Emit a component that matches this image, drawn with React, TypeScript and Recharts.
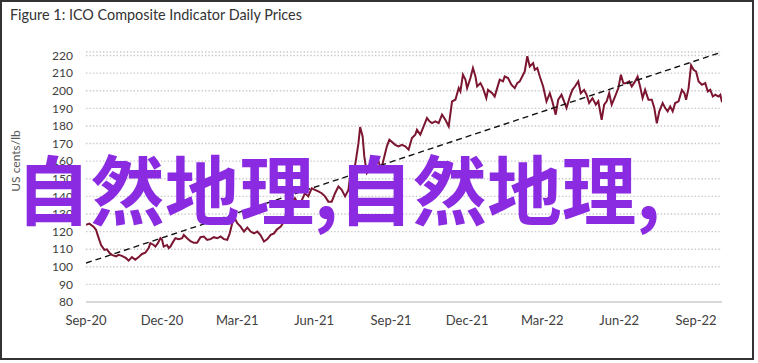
import { LineChart, Line, XAxis, YAxis, CartesianGrid } from 'recharts';

// days since 1 Sep 2020
const days = [
  0, 4, 9, 12, 14, 18, 22, 25, 28, 31,
  36, 39, 43, 48, 51, 55, 59, 63, 67, 71,
  75, 77, 81, 83, 86, 89, 91, 93, 97, 99,
  101, 104, 107, 111, 115, 117, 121, 125, 129, 133,
  137, 141, 145, 149, 153, 157, 161, 165, 169, 172,
  175, 178, 181, 185, 189, 193, 197, 201, 205, 209,
  213, 217, 221, 225, 228, 233, 237, 239, 242, 246,
  250, 254, 258, 262, 266, 270, 274, 278, 282, 286,
  290, 294, 298, 302, 306, 310, 314, 316, 320, 323,
  326, 328, 331, 333, 336, 339, 342, 346, 350, 353,
  357, 360, 363, 370, 374, 378, 382, 386, 390, 394,
  396, 400, 404, 408, 411, 414, 418, 422, 426, 430,
  434, 438, 442, 446, 448, 451, 454, 456, 460, 463,
  466, 468, 472, 475, 479, 481, 486, 489, 492, 495,
  499, 501, 505, 509, 513, 516, 519, 523, 525, 528,
  531, 535, 537, 540, 543, 547, 551, 555, 558, 562,
  565, 569, 572, 575, 579, 582, 585, 589, 592, 596,
  599, 602, 606, 610, 613, 617, 620, 623, 626, 629,
  633, 637, 640, 643, 646, 650, 653, 657, 660, 663,
  666, 669, 673, 677, 680, 683, 686, 690, 693, 696,
  699, 702, 705, 709, 713, 716, 718, 721, 724, 727,
  730, 733, 737, 741, 744, 747, 750, 753, 757, 759,
  761,
];

// US cents/lb
const prices = [
  123.8, 124.5, 122.8, 121, 118, 112.4, 109.6, 109.9, 108, 106.8,
  105.9, 106.8, 106.2, 104.9, 103.5, 105.5, 104, 105.5, 107.3, 108,
  110.6, 113.4, 112.4, 111.5, 113.4, 116.2, 115.3, 111.5, 112.4, 110.6,
  111.5, 114, 116.2, 115.7, 116.2, 118.1, 116.2, 114.5, 113.6, 113.6,
  116.8, 117.2, 115.3, 115.7, 116.8, 116.2, 117.2, 115.7, 115.3, 119,
  124.8, 127.6, 124.8, 122.8, 120, 122.3, 120, 119, 120, 117.9,
  114.3, 115.7, 118.1, 119, 121, 122.8, 125.7, 129.5, 133, 136,
  139, 135.5, 137.5, 141.8, 140, 144.6, 143.7, 142.8, 141.8, 140,
  137, 137, 141.8, 145.6, 143.7, 140, 143.7, 151.3, 152, 160.7,
  170.2, 179.4, 174, 162.7, 153.2, 155, 158.9, 161.7, 159.9, 155,
  162.7, 168.4, 172.2, 169.3, 168.4, 169.3, 168.4, 166.5, 173.1, 175,
  177.8, 175, 179.7, 184.5, 182.6, 181.6, 182.6, 181.6, 186.4, 183.5,
  179.7, 193.9, 194.9, 201.5, 199.6, 209.1, 206.3, 201.5, 207.2, 212.9,
  208.1, 202.4, 204.3, 201.5, 195.8, 200.5, 198.6, 196.7, 201.5, 206.3,
  205.3, 208.1, 207.2, 203.4, 201.5, 204.3, 205.3, 209.1, 211, 219.6,
  213.8, 215.7, 211.9, 212.9, 208.1, 202.4, 193.9, 198.6, 193.9, 186.4,
  194.9, 197.7, 193.9, 190.2, 196.7, 200.5, 202.4, 205.3, 198.6, 200.5,
  197.7, 193, 195.8, 192.1, 194, 183.5, 192.1, 194, 198.6, 192.1,
  196.7, 201.5, 209.1, 204.3, 204.3, 205.3, 202.4, 205.3, 208.1, 202.4,
  195.8, 200.5, 194.9, 194.9, 190.2, 181.5, 188.3, 193, 190.2, 188.3,
  191.1, 188.3, 193, 194, 200.5, 198.6, 194.9, 201.5, 214.5, 211.9,
  210.9, 205.3, 203.4, 204.3, 199.6, 200.5, 196.7, 197.7, 196.7, 197.7,
  193.5,
];

const trendDays = [0, 761];
const trendPrices = [102.1, 222];

const quarterDays = [0, 91, 181, 273, 365, 456, 546, 638, 730];
const quarterLabels = ['Sep-20', 'Dec-20', 'Mar-21', 'Jun-21', 'Sep-21', 'Dec-21', 'Mar-22', 'Jun-22', 'Sep-22'];
const priceTicks = [80, 90, 100, 110, 120, 130, 140, 150, 160, 170, 180, 190, 200, 210, 220];

const series = days.map((d, i) => ({ day: d, price: prices[i] }));
const trend = trendDays.map((d, i) => ({ day: d, trend: trendPrices[i] }));

const labelFor = (v: number) => quarterLabels[quarterDays.indexOf(v)] ?? '';

const W = 754;
const H = 360;

export default function App() {
  return (
    <div style={{ position: 'absolute', left: 0, top: 0, width: W, height: H, background: '#fff' }}>
      <LineChart
        width={W}
        height={H}
        margin={{ top: 52, right: 32, bottom: 28, left: 26 }}
      >
        <CartesianGrid
          vertical={false}
          stroke="#c9c9c9"
          strokeWidth={1.4}
          strokeDasharray="1.4 2"
        />
        <XAxis
          type="number"
          dataKey="day"
          domain={[0, 761]}
          ticks={quarterDays}
          tickFormatter={labelFor}
          interval={0}
          tickLine={false}
          tickMargin={8}
          axisLine={{ stroke: '#d9d9d9', strokeWidth: 2 }}
          tick={{ fontSize: 13, fontFamily: 'Lato', fill: '#404040' }}
          allowDataOverflow
        />
        <YAxis
          type="number"
          domain={[80, 222]}
          ticks={priceTicks}
          interval={0}
          width={60}
          axisLine={false}
          tickLine={false}
          tickMargin={7}
          tick={{ fontSize: 12, fontFamily: 'Lato', fill: '#404040' }}
          allowDataOverflow
        />
        <Line
          data={series}
          dataKey="price"
          type="linear"
          stroke="#7b1530"
          strokeWidth={2}
          dot={false}
          isAnimationActive={false}
        />
        <Line
          data={trend}
          dataKey="trend"
          type="linear"
          stroke="#111"
          strokeWidth={1.4}
          strokeDasharray="6 4"
          dot={false}
          isAnimationActive={false}
        />
      </LineChart>
      <svg
        width={W}
        height={H}
        style={{ position: 'absolute', left: 0, top: 0, pointerEvents: 'none' }}
      >
        <text x={10} y={20} fontSize={14.4} fontFamily="Lato" fill="#333">
          Figure 1: ICO Composite Indicator Daily Prices
        </text>
        <text
          x={0}
          y={0}
          transform="translate(20 161) rotate(-90)"
          textAnchor="middle"
          fontSize={12}
          fontFamily="Lato"
          fill="#595959"
        >
          US cents/lb
        </text>
        <text
          x={16}
          y={218.5}
          fontSize={74.5}
          fontWeight={700}
          fontFamily="'Noto Sans CJK SC'"
          fill="#8a2be2"
        >
          自然地理,自然地理,
        </text>
      </svg>
      <div
        style={{
          position: 'absolute',
          left: 0,
          top: 0,
          width: W,
          height: H,
          boxSizing: 'border-box',
          border: '2px solid #333',
          pointerEvents: 'none',
        }}
      />
    </div>
  );
}
